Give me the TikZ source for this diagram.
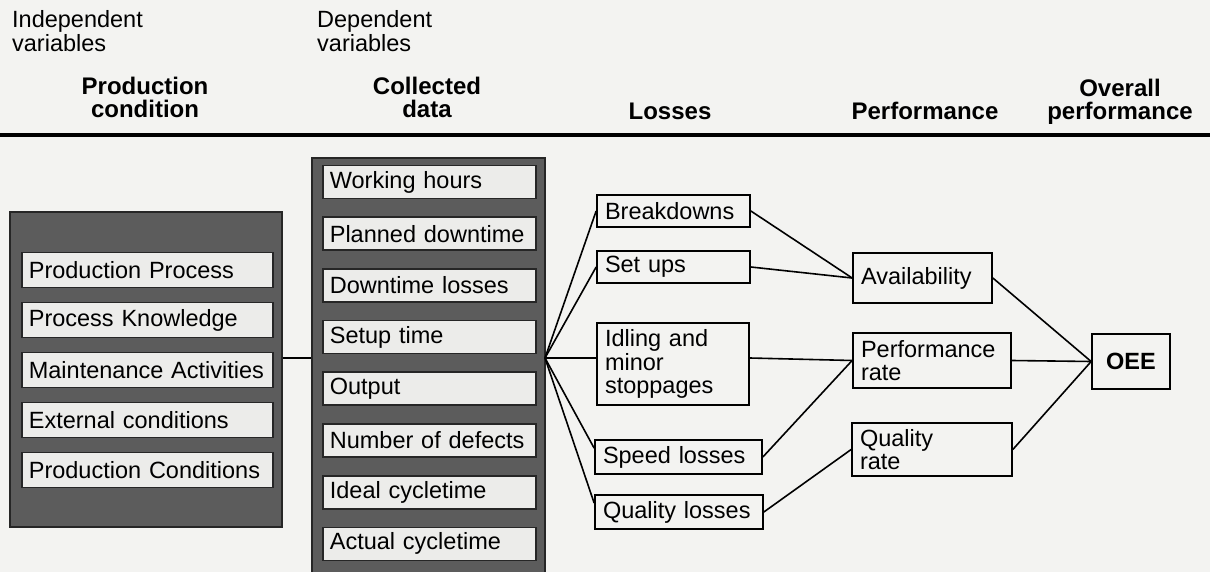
\documentclass[tikz,border=0pt]{standalone}
\usepackage{fontspec}
\setmainfont{Liberation Sans}
\usepackage{xcolor}
\definecolor{paper}{RGB}{243,243,241}
\definecolor{panelgray}{RGB}{92,92,92}
\definecolor{cellgray}{RGB}{236,236,234}

\begin{document}
\begin{tikzpicture}[x=1pt,y=-1pt,line width=1.7pt,
	every node/.style={font=\fontsize{23.5}{24}\selectfont},
	head/.style={font=\fontsize{24}{23}\selectfont\bfseries,align=center,anchor=base},
	note/.style={align=left,anchor=base west},
	panel/.style={draw=black!85,fill=panelgray,line width=1.8pt,inner sep=0pt},
	cell/.style={draw=black!85,fill=cellgray,anchor=west,align=left,inner xsep=7pt,inner ysep=0pt},
	box/.style={draw,fill=paper,align=left,inner xsep=8pt,inner ysep=0pt,font=\fontsize{23.5}{23.5}\selectfont},
	link/.style={line width=1.6pt}]
			\fill[paper] (0,0) rectangle (1210,572);
			\useasboundingbox (0,0) rectangle (1210,572);
			% column heads
			\node[note] (indep) at (8,52) {Independent\\variables};
			\node[note] (dep) at (313,52) {Dependent\\variables};
			\node[head] (hcond) at (145,118) {Production\\condition};
			\node[head] (hdata) at (427,118) {Collected\\data};
			\node[head] (hloss) at (670,120) {Losses};
			\node[head] (hperf) at (925,120) {Performance};
			\node[head] (hoee) at (1120,120) {Overall\\performance};
			\draw[line width=4pt] (0,135) -- (1210,135);
			% independent variables
			\node[panel,minimum width=272pt,minimum height=315pt] (cond) at (146,369.5) {};
			\node[cell,text width=237pt,minimum height=35pt] (c1) at (21,270) {Production Process};
			\node[cell,text width=237pt,minimum height=35pt] (c2) at (21,320) {Process Knowledge};
			\node[cell,text width=237pt,minimum height=35pt] (c3) at (21,370) {Maintenance Activities};
			\node[cell,text width=237pt,minimum height=35pt] (c4) at (21,420) {External conditions};
			\node[cell,text width=237pt,minimum height=35pt] (c5) at (21,470) {Production Conditions};
			% dependent variables
			\node[panel,minimum width=233pt,minimum height=428pt] (data) at (428.5,372) {};
			\node[cell,text width=199pt,minimum height=33pt] (d1) at (322,182) {Working hours};
			\node[cell,text width=199pt,minimum height=33pt] (d2) at (322,233.7) {Planned downtime};
			\node[cell,text width=199pt,minimum height=33pt] (d3) at (322,285.4) {Downtime losses};
			\node[cell,text width=199pt,minimum height=33pt] (d4) at (322,337.1) {Setup time};
			\node[cell,text width=199pt,minimum height=33pt] (d5) at (322,388.8) {Output};
			\node[cell,text width=199pt,minimum height=33pt] (d6) at (322,440.5) {Number of defects};
			\node[cell,text width=199pt,minimum height=33pt] (d7) at (322,492.2) {Ideal cycletime};
			\node[cell,text width=199pt,minimum height=33pt] (d8) at (322,543.9) {Actual cycletime};
			\coordinate (fan) at (545,358);
			% losses
			\node[box,text width=137pt,minimum height=32pt] (brk) at (673.5,211) {Breakdowns};
			\node[box,text width=137pt,minimum height=32pt] (setup) at (673.5,267) {Set ups};
			\node[box,text width=136pt,minimum height=82pt] (idle) at (673,364) {Idling and\\minor\\stoppages};
			\node[box,text width=151pt,minimum height=34pt] (speed) at (678.5,457) {Speed losses};
			\node[box,text width=152pt,minimum height=34pt] (qloss) at (679,512) {Quality losses};
			% performance
			\node[box,text width=123pt,minimum height=50pt] (avail) at (922.5,278) {Availability};
			\node[box,text width=142pt,minimum height=55pt] (perf) at (932,360.5) {Performance\\rate};
			\node[box,text width=144pt,minimum height=53pt] (qrate) at (932,449.5) {Quality\\rate};
			\node[box,align=center,minimum width=78pt,minimum height=55pt,font=\fontsize{23.5}{24}\selectfont\bfseries] (oee) at (1131,361.5) {OEE};
			% connectors
			\draw[link] (cond.east |- fan) -- (data.west |- fan);
			\draw[link] (fan) -- (brk.west);
			\draw[link] (fan) -- (setup.west);
			\draw[link] (fan) -- (idle.west |- fan);
			\draw[link] (fan) -- (speed.174);
			\draw[link] (fan) -- (qloss.174);
			\draw[link] (brk.east) -- (avail.west);
			\draw[link] (setup.east) -- (avail.west);
			\draw[link] (idle.east |- fan) -- (perf.west);
			\draw[link] (speed.east) -- (perf.west);
			\draw[link] (qloss.east) -- (qrate.west);
			\draw[link] (avail.east) -- (oee.west);
			\draw[link] (perf.east) -- (oee.west);
			\draw[link] (qrate.east) -- (oee.west);
		\end{tikzpicture}
\end{document}
